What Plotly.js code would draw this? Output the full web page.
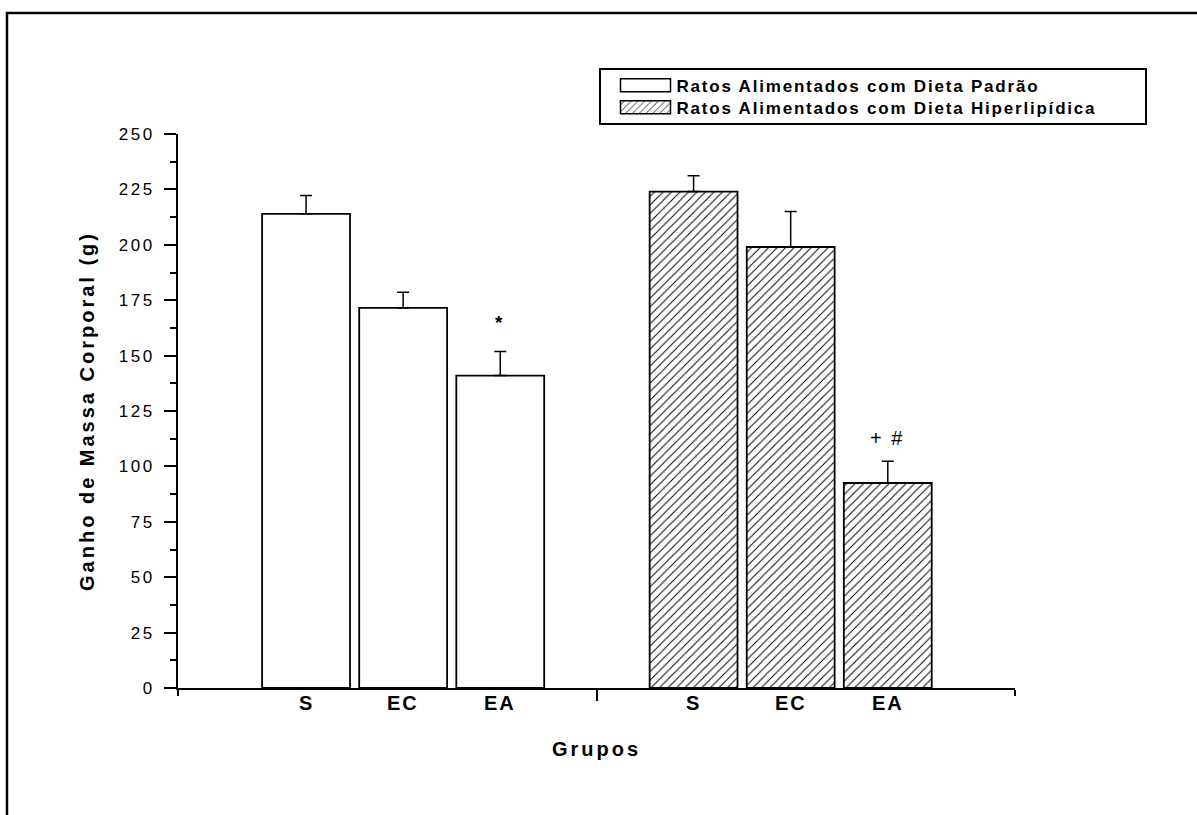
<!DOCTYPE html>
<html>
<head>
<meta charset="utf-8">
<script src="https://cdn.plot.ly/plotly-3.0.1.min.js"></script>
<style>
html,body{margin:0;padding:0;background:#fff;}
#chart{width:1197px;height:815px;}
#chart .ytitle, #chart .xtitle { letter-spacing: 3px; }
#chart .ytick text { letter-spacing: 2.5px; }
#chart .legendtext { letter-spacing: 1.8px; }
#chart .annotation-text { letter-spacing: 2px; }
</style>
</head>
<body>
<div id="chart"></div>
<script>
// ---- data ----
const categories = ["S", "EC", "EA"];
const seriesNames = ["Ratos Alimentados com Dieta Padrão", "Ratos Alimentados com Dieta Hiperlipídica"];
const padraoValues = [214, 171.5, 141];
const padraoErrors = [8.2, 7.1, 10.8];
const hiperValues = [224, 199, 92.5];
const hiperErrors = [7.2, 16, 9.8];
const padraoMarks = ["", "", "*"];
const hiperMarks = ["", "", "+ #"];
const yTickVals = [0, 25, 50, 75, 100, 125, 150, 175, 200, 225, 250];

// ---- layout geometry ----
const W = 1197, H = 815;
const L = 178, R = 1015, T = 134, B = 688;
const pw = R - L, ph = B - T;
const group1Start = 1.53, group2Start = 6.16, step = 1.16, barW = 1.05;
const xs1 = categories.map((c, i) => group1Start + i * step);
const xs2 = categories.map((c, i) => group2Start + i * step);
const FONT = "Arial, 'Liberation Sans', Helvetica, sans-serif";
const LEG_LEFT = 599, LEG_RIGHT = 1146, LEG_TOP = 68, LEG_BOTTOM = 124;
const LEG_ROW_CENTERS = [86.5, 108.5];

const traces = [
  {
    type: "bar", name: seriesNames[0], x: xs1, y: padraoValues, width: barW,
    marker: {color: "#ffffff", line: {color: "#000", width: 1.8}},
    error_y: {type: "data", symmetric: false, array: padraoErrors, arrayminus: padraoErrors.map(() => 0),
      color: "#000", thickness: 1.5, width: 6},
    hoverinfo: "none"
  },
  {
    type: "bar", name: seriesNames[1], x: xs2, y: hiperValues, width: barW,
    marker: {color: "#ffffff", line: {color: "#000", width: 1.8},
      pattern: {shape: "/", fgcolor: "#000", bgcolor: "#ffffff", size: 6, solidity: 0.16}},
    error_y: {type: "data", symmetric: false, array: hiperErrors, arrayminus: hiperErrors.map(() => 0),
      color: "#000", thickness: 1.5, width: 6},
    hoverinfo: "none"
  }
];

const annotations = [];
categories.forEach((c, i) => {
  annotations.push({x: xs1[i], y: 0, xref: "x", yref: "y", text: "<b>" + c + "</b>", showarrow: false,
    yanchor: "middle", yshift: -15, font: {family: FONT, size: 20, color: "#000"}});
  annotations.push({x: xs2[i], y: 0, xref: "x", yref: "y", text: "<b>" + c + "</b>", showarrow: false,
    yanchor: "middle", yshift: -15, font: {family: FONT, size: 20, color: "#000"}});
  if (padraoMarks[i]) annotations.push({x: xs1[i], y: padraoValues[i] + padraoErrors[i], xref: "x", yref: "y",
    text: "<b>" + padraoMarks[i] + "</b>", showarrow: false, yanchor: "middle", yshift: 29,
    font: {family: FONT, size: 19, color: "#000"}});
  if (hiperMarks[i]) annotations.push({x: xs2[i], y: hiperValues[i] + hiperErrors[i], xref: "x", yref: "y",
    text: hiperMarks[i], showarrow: false, yanchor: "middle", yshift: 23,
    font: {family: FONT, size: 20, color: "#000"}});
});

const layout = {
  width: W, height: H,
  margin: {l: L, r: W - R, t: T, b: H - B, pad: 0},
  paper_bgcolor: "#fff", plot_bgcolor: "#fff",
  showlegend: true,
  bargap: 0,
  font: {family: FONT, color: "#000"},
  xaxis: {
    range: [0, 10], showgrid: false, zeroline: false,
    showline: true, linecolor: "#000", linewidth: 2,
    tickmode: "array", tickvals: [5], ticktext: [""], ticks: "outside", ticklen: 11, tickwidth: 2, tickcolor: "#000",
    minor: {tickmode: "array", tickvals: [0, 10], ticks: "outside", ticklen: 6, tickwidth: 2, tickcolor: "#000"},
    title: {text: "<b>Grupos</b>", font: {family: FONT, size: 20, color: "#000"}, standoff: 40},
    fixedrange: true
  },
  yaxis: {
    range: [0, 250], showgrid: false, zeroline: false,
    showline: true, linecolor: "#000", linewidth: 2,
    tickmode: "array", tickvals: yTickVals, ticks: "outside", ticklen: 12, tickwidth: 2, tickcolor: "#000",
    ticklabelstandoff: 6,
    tickfont: {family: FONT, size: 17, color: "#000"},
    minor: {dtick: 12.5, tick0: 0, ticks: "outside", ticklen: 6, tickwidth: 2, tickcolor: "#000"},
    title: {text: "<b>Ganho de Massa Corporal (g)</b>", font: {family: FONT, size: 20, color: "#000"}, standoff: 26},
    fixedrange: true
  },
  legend: {
    x: (LEG_LEFT - L) / pw, y: (B - LEG_TOP) / ph, xanchor: "left", yanchor: "top",
    bgcolor: "#fff", bordercolor: "#000", borderwidth: 1.5,
    font: {family: FONT, size: 17, color: "#000", weight: "bold"},
    itemwidth: 66, tracegroupgap: 0
  },
  annotations: annotations,
  shapes: [{
    type: "rect", xref: "paper", yref: "paper",
    x0: (7 - L) / pw, x1: (1210 - L) / pw, y0: (B - 830) / ph, y1: (B - 13) / ph,
    line: {color: "#000", width: 2.5}, fillcolor: "rgba(0,0,0,0)", layer: "below"
  }]
};

Plotly.newPlot("chart", traces, layout, {staticPlot: true, displayModeBar: false}).then(gd => {
  const gr = gd.getBoundingClientRect();
  // widen legend swatches into rectangles like the original and tighten row spacing
  gd.querySelectorAll(".legend .traces").forEach((item, idx) => {
    const path = item.querySelector(".legendpoints path");
    const text = item.querySelector(".legendtext");
    if (!path || !text) return;
    const pb = path.getBBox();
    const cx = pb.x + pb.width / 2;
    const tb = text.getBoundingClientRect();
    const pr = path.getBoundingClientRect();
    const pcx = pr.left + pr.width / 2;
    const left = (tb.left - 56) - pcx + cx;
    const right = (tb.left - 6) - pcx + cx;
    path.setAttribute("d", `M${right},6.5H${left}V-6.5H${right}Z`);
    path.style.strokeWidth = "1.5px";
    path.style.stroke = "#000";
    const target = LEG_ROW_CENTERS[idx];
    if (target !== undefined) {
      const curC = (tb.top + tb.bottom) / 2 - gr.top;
      const tr = item.getAttribute("transform") || "translate(0,0)";
      const m = tr.match(/translate\(\s*([-\d.]+)[ ,]+([-\d.]+)\s*\)/);
      if (m) item.setAttribute("transform", `translate(${m[1]},${parseFloat(m[2]) + (target - curC)})`);
    }
  });
  // set the legend frame to the original box size (text is letter-spaced)
  const bg = gd.querySelector(".legend rect.bg");
  if (bg) {
    const bgr = bg.getBoundingClientRect();
    const curW = parseFloat(bg.getAttribute("width"));
    const curH = parseFloat(bg.getAttribute("height"));
    const newW = curW + (LEG_RIGHT - (bgr.right - gr.left));
    const newH = curH + (LEG_BOTTOM - (bgr.bottom - gr.top));
    bg.setAttribute("width", newW);
    bg.setAttribute("height", newH);
    document.querySelectorAll("clipPath[id^='legend'] rect").forEach(r => r.setAttribute("width", newW + 20));
  }
});
</script>
</body>
</html>
